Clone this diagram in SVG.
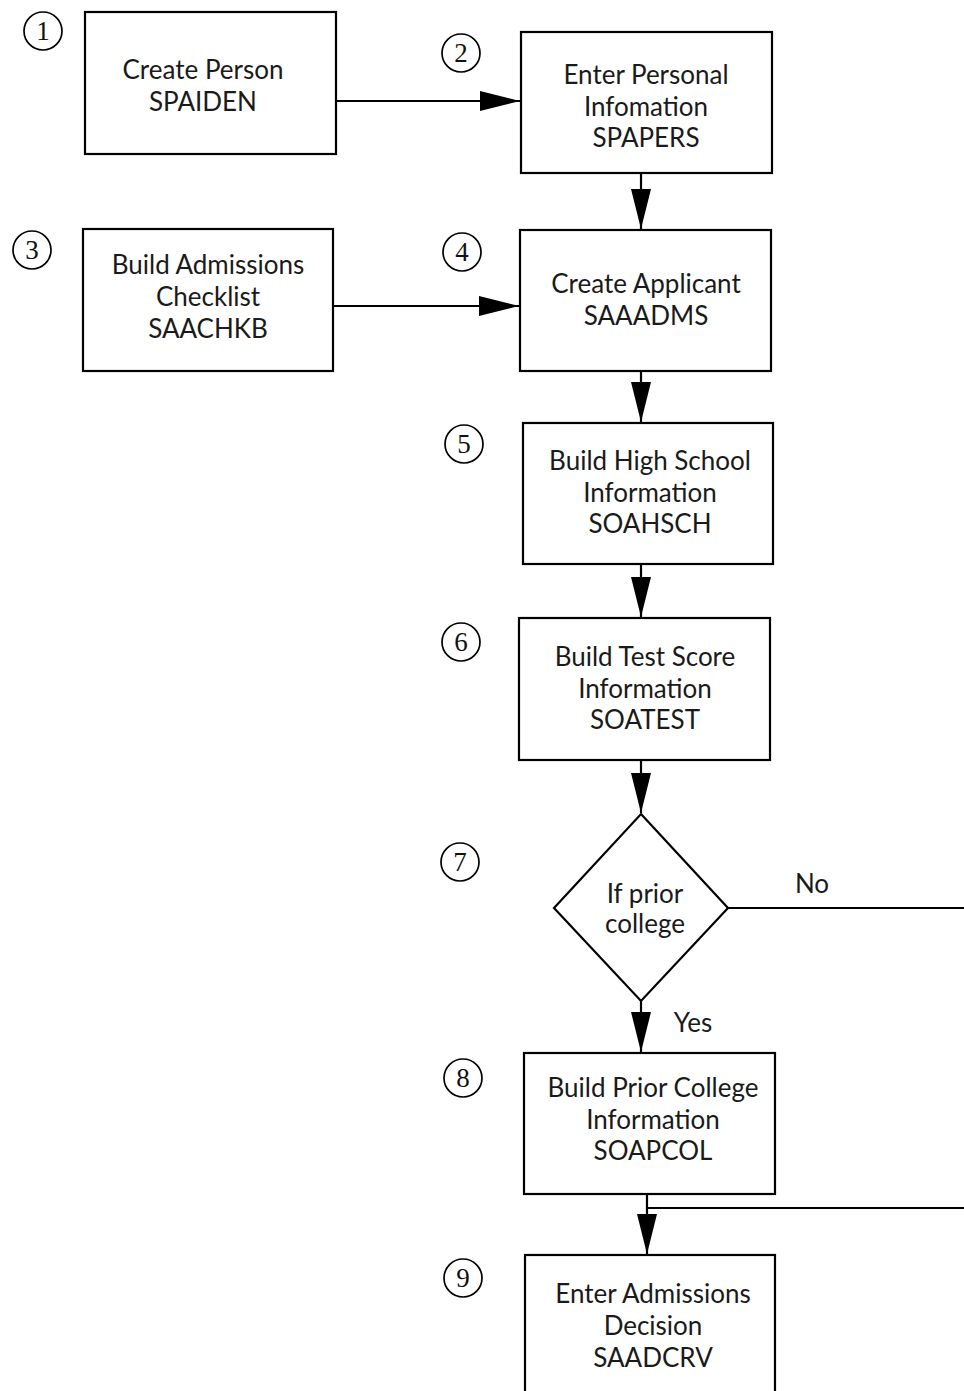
<svg xmlns="http://www.w3.org/2000/svg" width="964" height="1391" viewBox="0 0 964 1391">
  <style>
    .box { fill: #fff; stroke: #000; stroke-width: 2.2; }
    .num { fill: #fff; stroke: #000; stroke-width: 1.7; }
    .lbl { font-family: Lato, "Noto Sans", sans-serif; font-size: 26px; fill: #1a1a1a; text-anchor: middle; }
    .numt { font-family: "Liberation Serif", "DejaVu Serif", serif; font-size: 27px; fill: #111; text-anchor: middle; }
    .wire { fill: none; stroke: #000; stroke-width: 2.2; }
  </style>
  <defs>
    <marker id="head" viewBox="0 0 40 20" refX="40" refY="10" markerWidth="40" markerHeight="20" markerUnits="userSpaceOnUse" orient="auto">
      <path d="M0,0 L40,10 L0,20 Z" fill="#000"/>
    </marker>
  </defs>

  <rect width="964" height="1391" fill="#fff"/>

  <g id="connectors">
    <line class="wire" x1="336" y1="101" x2="520" y2="101" marker-end="url(#head)"/>
    <line class="wire" x1="641" y1="173" x2="641" y2="229" marker-end="url(#head)"/>
    <line class="wire" x1="333" y1="306" x2="519" y2="306" marker-end="url(#head)"/>
    <line class="wire" x1="641" y1="371" x2="641" y2="422" marker-end="url(#head)"/>
    <line class="wire" x1="641" y1="564" x2="641" y2="617" marker-end="url(#head)"/>
    <line class="wire" x1="641" y1="760" x2="641" y2="813" marker-end="url(#head)"/>
    <line class="wire" x1="728" y1="908" x2="964" y2="908"/>
    <text class="lbl" x="812" y="893">No</text>
    <line class="wire" x1="641" y1="1001" x2="641" y2="1052" marker-end="url(#head)"/>
    <text class="lbl" x="693" y="1032">Yes</text>
    <line class="wire" x1="964" y1="1208" x2="647" y2="1208"/>
    <line class="wire" x1="647" y1="1194" x2="647" y2="1254" marker-end="url(#head)"/>
  </g>

  <g id="step1">
    <circle class="num" cx="43" cy="31" r="19"/>
    <text class="numt" x="43" y="40">1</text>
    <rect class="box" x="85" y="12" width="251" height="142"/>
    <text class="lbl" x="203" y="79">Create Person</text>
    <text class="lbl" x="203" y="111">SPAIDEN</text>
  </g>

  <g id="step2">
    <circle class="num" cx="461" cy="53" r="19"/>
    <text class="numt" x="461" y="62">2</text>
    <rect class="box" x="521" y="32" width="251" height="141"/>
    <text class="lbl" x="646" y="84">Enter Personal</text>
    <text class="lbl" x="646" y="116">Infomation</text>
    <text class="lbl" x="646" y="147">SPAPERS</text>
  </g>

  <g id="step3">
    <circle class="num" cx="32" cy="250" r="19"/>
    <text class="numt" x="32" y="259">3</text>
    <rect class="box" x="83" y="229" width="250" height="142"/>
    <text class="lbl" x="208" y="274">Build Admissions</text>
    <text class="lbl" x="208" y="306">Checklist</text>
    <text class="lbl" x="208" y="338">SAACHKB</text>
  </g>

  <g id="step4">
    <circle class="num" cx="462" cy="252" r="19"/>
    <text class="numt" x="462" y="261">4</text>
    <rect class="box" x="520" y="230" width="251" height="141"/>
    <text class="lbl" x="646" y="293">Create Applicant</text>
    <text class="lbl" x="646" y="325">SAAADMS</text>
  </g>

  <g id="step5">
    <circle class="num" cx="464" cy="444" r="19"/>
    <text class="numt" x="464" y="453">5</text>
    <rect class="box" x="523" y="423" width="250" height="141"/>
    <text class="lbl" x="650" y="470">Build High School</text>
    <text class="lbl" x="650" y="502">Information</text>
    <text class="lbl" x="650" y="533">SOAHSCH</text>
  </g>

  <g id="step6">
    <circle class="num" cx="461" cy="642" r="19"/>
    <text class="numt" x="461" y="651">6</text>
    <rect class="box" x="519" y="618" width="251" height="142"/>
    <text class="lbl" x="645" y="666">Build Test Score</text>
    <text class="lbl" x="645" y="698">Information</text>
    <text class="lbl" x="645" y="729">SOATEST</text>
  </g>

  <g id="step7">
    <circle class="num" cx="460" cy="862" r="19"/>
    <text class="numt" x="460" y="871">7</text>
    <polygon class="box" points="641,814 728,908 641,1001 554,908"/>
    <text class="lbl" x="645" y="903">If prior</text>
    <text class="lbl" x="645" y="933">college</text>
  </g>

  <g id="step8">
    <circle class="num" cx="463" cy="1078" r="19"/>
    <text class="numt" x="463" y="1087">8</text>
    <rect class="box" x="524" y="1053" width="251" height="141"/>
    <text class="lbl" x="653" y="1097">Build Prior College</text>
    <text class="lbl" x="653" y="1129">Information</text>
    <text class="lbl" x="653" y="1160">SOAPCOL</text>
  </g>

  <g id="step9">
    <circle class="num" cx="463" cy="1278" r="19"/>
    <text class="numt" x="463" y="1287">9</text>
    <rect class="box" x="525" y="1255" width="250" height="150"/>
    <text class="lbl" x="653" y="1303">Enter Admissions</text>
    <text class="lbl" x="653" y="1335">Decision</text>
    <text class="lbl" x="653" y="1367">SAADCRV</text>
  </g>
</svg>
